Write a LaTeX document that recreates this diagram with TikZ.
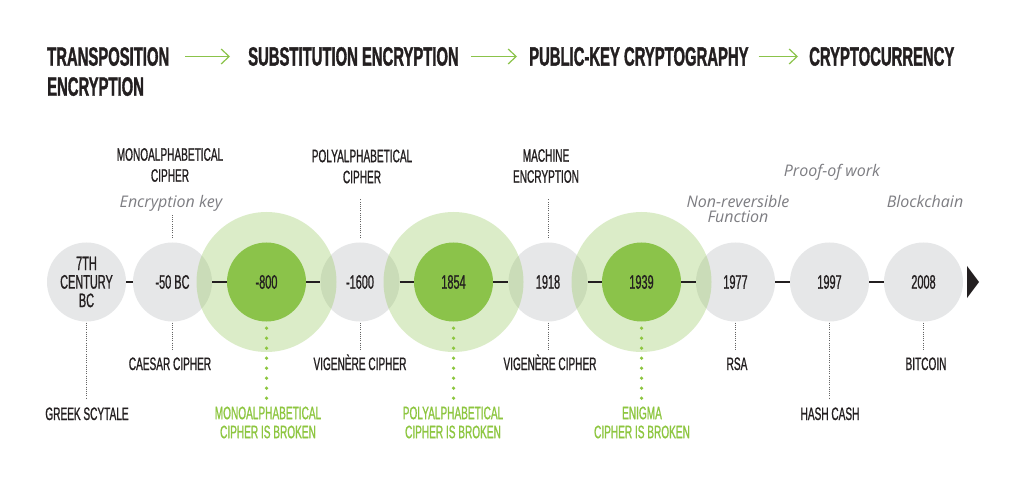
\documentclass[tikz,border=0pt]{standalone}
\usepackage{fontspec}
\newfontfamily\hdfont[FakeStretch=0.56,FakeBold=1.2]{Liberation Sans Bold}
\newfontfamily\lbfont[FakeStretch=0.56,FakeBold=0.9]{Liberation Sans}
\newfontfamily\itfont{Open Sans}
\usetikzlibrary{arrows.meta,calc}
\definecolor{ink}{RGB}{35,31,32}
\definecolor{grayc}{RGB}{230,231,232}
\definecolor{grn}{RGB}{139,195,74}
\definecolor{gtext}{RGB}{141,198,63}
\definecolor{itgray}{RGB}{125,125,130}
\definecolor{leadc}{RGB}{100,100,100}
\begin{document}
\begin{tikzpicture}[x=1pt,y=-1pt,
  hdr/.style={font=\hdfont\fontsize{26.5}{30}\selectfont, text=ink, inner sep=0pt},
  hdrarrow/.style={draw=grn, line width=1.2pt, -{Straight Barb[length=8pt,width=15pt]}},
  graycirc/.style={circle, fill=grayc, minimum size=79pt, inner sep=0pt, font=\lbfont\fontsize{19.5}{18.5}\selectfont, text=ink, align=center},
  greencirc/.style={graycirc, fill=grn},
  halo/.style={circle, fill=grn, fill opacity=0.3, minimum size=140pt, inner sep=0pt},
  link/.style={draw=ink, line width=2.2pt},
  lbl/.style={font=\lbfont\fontsize{18}{21}\selectfont, text=ink, align=center, inner sep=0pt},
  glbl/.style={lbl, font=\lbfont\fontsize{18}{19}\selectfont, text=gtext},
  note/.style={font=\itfont\itshape\fontsize{16}{15}\selectfont, text=itgray, align=center, inner sep=0pt},
  leader/.style={draw=leadc, line width=0.9pt, dash pattern=on 1pt off 1.2pt},
  gdots/.style={draw=gtext, line width=3.6pt, line cap=round, dash pattern=on 0pt off 10pt}
]
\fill[white] (0,0) rectangle (1025,478);
\useasboundingbox (0,0) rectangle (1025,478);

% headers
\node[hdr, anchor=north west, align=left] (h1) at (47,47) {TRANSPOSITION\\ENCRYPTION};
\node[hdr, anchor=west] (h2) at (248,56.5) {SUBSTITUTION ENCRYPTION};
\node[hdr, anchor=west] (h3) at (529,56.5) {PUBLIC-KEY CRYPTOGRAPHY};
\node[hdr, anchor=west] (h4) at (809,56.5) {CRYPTOCURRENCY};
\draw[hdrarrow] ($(h1.east |- h2.west)+(16,0)$) -- ($(h2.west)+(-18,0)$);
\draw[hdrarrow] ($(h2.east)+(12,0)$) -- ($(h3.west)+(-12,0)$);
\draw[hdrarrow] ($(h3.east)+(10,0)$) -- ($(h4.west)+(-11,0)$);

% circles
\node[graycirc] (c1) at (86.5,282) {7TH\\CENTURY\\BC};
\node[graycirc] (c2) at (172.5,282) {-50 BC};
\node[graycirc] (c4) at (360,282) {-1600};
\node[graycirc] (c6) at (548,282) {1918};
\node[graycirc] (c8) at (735.5,282) {1977};
\node[graycirc] (c9) at (829.5,282) {1997};
\node[graycirc] (c10) at (923.5,282) {2008};
\node[halo] (o3) at (266.5,282) {};
\node[halo] (o5) at (453.5,282) {};
\node[halo] (o7) at (641.5,282) {};
\node[greencirc] (c3) at (266.5,282) {-800};
\node[greencirc] (c5) at (453.5,282) {1854};
\node[greencirc] (c7) at (641.5,282) {1939};

% links
\draw[link] (c1) -- (c2);
\draw[link] (c2) -- (c3);
\draw[link] (c3) -- (c4);
\draw[link] (c4) -- (c5);
\draw[link] (c5) -- (c6);
\draw[link] (c6) -- (c7);
\draw[link] (c7) -- (c8);
\draw[link] (c8) -- (c9);
\draw[link] (c9) -- (c10);
\fill[ink] (967,266) -- (979,282) -- (967,298) -- cycle;

% upper labels
\node[lbl] (t2) at (170,165) {MONOALPHABETICAL\\CIPHER};
\node[lbl] (t4) at (362,166.5) {POLYALPHABETICAL\\CIPHER};
\node[lbl] (t6) at (546,166) {MACHINE\\ENCRYPTION};
\node[note, anchor=base] (n2) at (171,208) {Encryption key};
\node[note] (n8) at (738,209.5) {Non-reversible\\Function};
\node[note, anchor=base] (n9) at (832,177) {Proof-of work};
\node[note, anchor=base] (n10) at (925,208) {Blockchain};

% lower labels
\node[lbl, anchor=base] (b1) at (87,420) {GREEK SCYTALE};
\node[lbl, anchor=base] (b2) at (170,370) {CAESAR CIPHER};
\node[glbl] (b3) at (268,422.5) {MONOALPHABETICAL\\CIPHER IS BROKEN};
\node[lbl, anchor=base] (b4) at (360,370) {VIGENÈRE CIPHER};
\node[glbl] (b5) at (453,422.5) {POLYALPHABETICAL\\CIPHER IS BROKEN};
\node[lbl, anchor=base] (b6) at (550,370) {VIGENÈRE CIPHER};
\node[glbl] (b7) at (642,422.5) {ENIGMA\\CIPHER IS BROKEN};
\node[lbl, anchor=base] (b8) at (737,370) {RSA};
\node[lbl, anchor=base] (b9) at (830,420) {HASH CASH};
\node[lbl, anchor=base] (b10) at (926,370) {BITCOIN};

% leaders
\draw[leader] (c2.north) ++(0,-4.5) -- ++(0,-23);
\draw[leader] (c4.north) ++(0,-4.5) -- ++(0,-39);
\draw[leader] (c6.north) ++(0,-4.5) -- ++(0,-39);
\draw[leader] (c1.south) ++(0,1) -- ++(0,75);
\draw[leader] (c2.south) ++(0,1) -- ++(0,28);
\draw[leader] (c4.south) ++(0,1) -- ++(0,28);
\draw[leader] (c6.south) ++(0,1) -- ++(0,28);
\draw[leader] (c8.south) ++(0,1) -- ++(0,28);
\draw[leader] (c9.south) ++(0,1) -- ++(0,75);
\draw[leader] (c10.south) ++(0,1) -- ++(0,28);
\draw[gdots] (c3.south) ++(0,6.5) -- ++(0,70.5);
\draw[gdots] (c5.south) ++(0,6.5) -- ++(0,70.5);
\draw[gdots] (c7.south) ++(0,6.5) -- ++(0,70.5);
\end{tikzpicture}
\end{document}
